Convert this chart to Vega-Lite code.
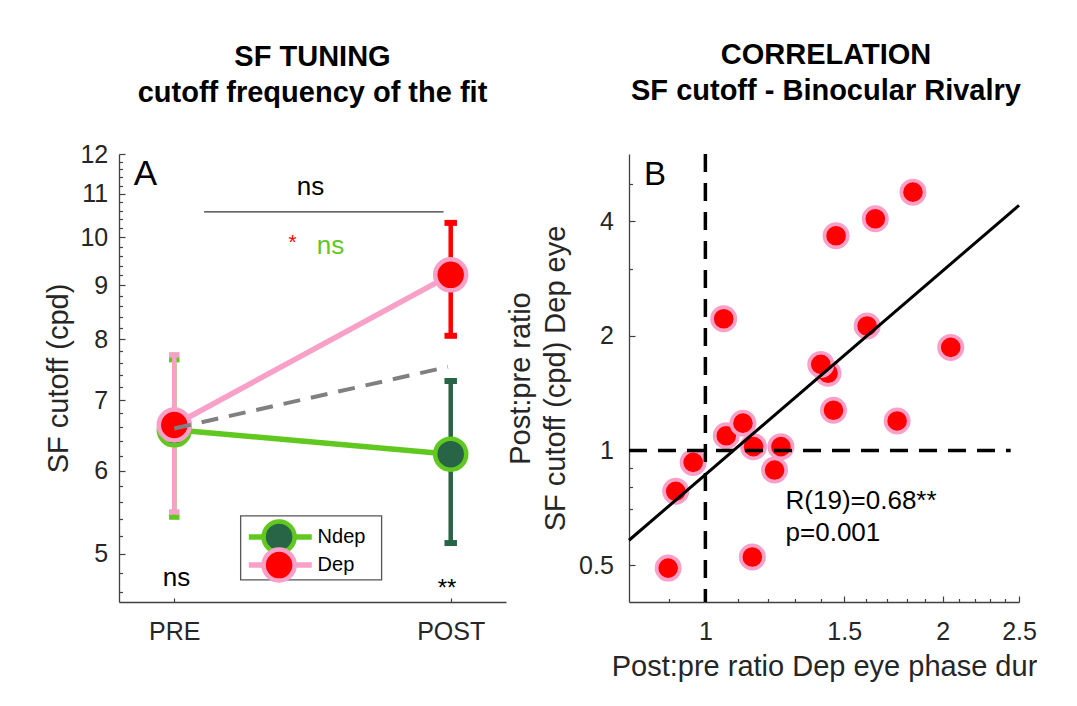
{
  "$schema": "https://vega.github.io/schema/vega-lite/v6.json",
  "background": "white",
  "padding": {"left": 44, "top": 41, "right": 0, "bottom": 0},
  "config": {
    "font": "Liberation Sans",
    "view": {"stroke": null},
    "axis": {
      "grid": false,
      "domainColor": "#404040",
      "domainWidth": 1.3,
      "tickColor": "#404040",
      "tickWidth": 1.2,
      "labelColor": "#262626",
      "labelFont": "Liberation Sans",
      "labelFontSize": 25,
      "titleFont": "Liberation Sans",
      "titleFontSize": 29,
      "titleFontWeight": "normal",
      "titleColor": "#262626"
    }
  },
  "bounds": "flush",
  "spacing": 123,
  "hconcat": [
    {
      "width": 387,
      "height": 448,
      "title": {
        "text": ["SF TUNING", "cutoff frequency of the fit"],
        "frame": "group",
        "anchor": "middle",
        "font": "Liberation Sans",
        "fontSize": 29,
        "fontWeight": "bold",
        "lineHeight": 36,
        "offset": 34,
        "color": "black"
      },
      "data": {
        "values": [
          {"group": "Ndep", "time": "PRE", "t": 1, "mean": 6.56, "lo": 5.42, "hi": 7.65},
          {"group": "Ndep", "time": "POST", "t": 2, "mean": 6.22, "lo": 5.12, "hi": 7.3},
          {"group": "Dep", "time": "PRE", "t": 1, "mean": 6.63, "lo": 5.48, "hi": 7.73},
          {"group": "Dep", "time": "POST", "t": 2, "mean": 9.21, "lo": 8.06, "hi": 10.32}
        ]
      },
      "resolve": {"axis": {"x": "independent", "y": "independent"}},
      "layer": [
        {
          "transform": [{"filter": "datum.group == 'Ndep' && datum.time == 'PRE'"}],
          "layer": [
            {"mark": {"type": "rule", "strokeWidth": 4.5, "color": "#60C81E"},
             "encoding": {"x": {"field": "t", "type": "quantitative", "axis": null}, "y": {"field": "lo", "type": "quantitative", "axis": null}, "y2": {"field": "hi"}}},
            {"mark": {"type": "tick", "orient": "horizontal", "size": 10.5, "thickness": 5.5, "color": "#60C81E", "opacity": 1},
             "encoding": {"x": {"field": "t", "type": "quantitative", "axis": null}, "y": {"field": "lo", "type": "quantitative", "axis": null}}},
            {"mark": {"type": "tick", "orient": "horizontal", "size": 10.5, "thickness": 5.5, "color": "#60C81E", "opacity": 1},
             "encoding": {"x": {"field": "t", "type": "quantitative", "axis": null}, "y": {"field": "hi", "type": "quantitative", "axis": null}}}
          ]
        },
        {
          "transform": [{"filter": "datum.group == 'Dep' && datum.time == 'PRE'"}],
          "layer": [
            {"mark": {"type": "rule", "strokeWidth": 4.5, "color": "#F9A0C8"},
             "encoding": {"x": {"field": "t", "type": "quantitative", "axis": null}, "y": {"field": "lo", "type": "quantitative", "axis": null}, "y2": {"field": "hi"}}},
            {"mark": {"type": "tick", "orient": "horizontal", "size": 10.5, "thickness": 5.5, "color": "#F9A0C8", "opacity": 1},
             "encoding": {"x": {"field": "t", "type": "quantitative", "axis": null}, "y": {"field": "lo", "type": "quantitative", "axis": null}}},
            {"mark": {"type": "tick", "orient": "horizontal", "size": 10.5, "thickness": 5.5, "color": "#F9A0C8", "opacity": 1},
             "encoding": {"x": {"field": "t", "type": "quantitative", "axis": null}, "y": {"field": "hi", "type": "quantitative", "axis": null}}}
          ]
        },
        {
          "transform": [{"filter": "datum.group == 'Ndep' && datum.time == 'POST'"}],
          "layer": [
            {"mark": {"type": "rule", "strokeWidth": 4.5, "color": "#286446"},
             "encoding": {"x": {"field": "t", "type": "quantitative", "axis": null}, "y": {"field": "lo", "type": "quantitative", "axis": null}, "y2": {"field": "hi"}}},
            {"mark": {"type": "tick", "orient": "horizontal", "size": 12.5, "thickness": 6, "color": "#286446", "opacity": 1},
             "encoding": {"x": {"field": "t", "type": "quantitative", "axis": null}, "y": {"field": "lo", "type": "quantitative", "axis": null}}},
            {"mark": {"type": "tick", "orient": "horizontal", "size": 12.5, "thickness": 6, "color": "#286446", "opacity": 1},
             "encoding": {"x": {"field": "t", "type": "quantitative", "axis": null}, "y": {"field": "hi", "type": "quantitative", "axis": null}}}
          ]
        },
        {
          "transform": [{"filter": "datum.group == 'Dep' && datum.time == 'POST'"}],
          "layer": [
            {"mark": {"type": "rule", "strokeWidth": 4.5, "color": "#FF0000"},
             "encoding": {"x": {"field": "t", "type": "quantitative", "axis": null}, "y": {"field": "lo", "type": "quantitative", "axis": null}, "y2": {"field": "hi"}}},
            {"mark": {"type": "tick", "orient": "horizontal", "size": 12.5, "thickness": 6, "color": "#FF0000", "opacity": 1},
             "encoding": {"x": {"field": "t", "type": "quantitative", "axis": null}, "y": {"field": "lo", "type": "quantitative", "axis": null}}},
            {"mark": {"type": "tick", "orient": "horizontal", "size": 12.5, "thickness": 6, "color": "#FF0000", "opacity": 1},
             "encoding": {"x": {"field": "t", "type": "quantitative", "axis": null}, "y": {"field": "hi", "type": "quantitative", "axis": null}}}
          ]
        },
        {
          "transform": [{"filter": "datum.group == 'Ndep'"}],
          "mark": {"type": "line", "strokeWidth": 5.5, "color": "#60C81E"},
          "encoding": {
            "x": {"field": "t", "type": "quantitative", "axis": null},
            "y": {"field": "mean", "type": "quantitative", "axis": null}
          }
        },
        {
          "transform": [{"filter": "datum.group == 'Dep'"}],
          "mark": {"type": "line", "strokeWidth": 5.5, "color": "#F9A0C8"},
          "encoding": {
            "x": {"field": "t", "type": "quantitative", "axis": null},
            "y": {"field": "mean", "type": "quantitative", "axis": null}
          }
        },
        {
          "mark": {"type": "point", "filled": true, "size": 960, "strokeWidth": 4.5, "opacity": 1},
          "encoding": {
            "x": {
              "field": "t", "type": "quantitative",
              "scale": {"domain": [0.8, 2.2], "nice": false, "zero": false},
              "axis": {"orient": "bottom", "values": [1, 2], "labelExpr": "datum.value == 1 ? 'PRE' : 'POST'", "tickSize": -4, "labelPadding": 21.3, "labelFlush": false, "labelOverlap": false, "title": null}
            },
            "y": {
              "field": "mean", "type": "quantitative",
              "scale": {"type": "log", "domain": [4.5, 12], "nice": false},
              "axis": {"orient": "left", "values": [5, 6, 7, 8, 9, 10, 11, 12], "format": "~g", "tickSize": -6, "labelPadding": 17.3, "labelOverlap": false, "title": "SF cutoff (cpd)", "titlePadding": 6}
            },
            "fill": {"field": "group", "type": "nominal", "scale": {"domain": ["Ndep", "Dep"], "range": ["#286446", "#FF0000"]}, "legend": null},
            "stroke": {"field": "group", "type": "nominal", "scale": {"domain": ["Ndep", "Dep"], "range": ["#60C81E", "#F9A0C8"]}, "legend": null}
          }
        },
        {
          "data": {"values": [{}]},
          "mark": {"type": "rule", "color": "#808080", "strokeWidth": 4, "strokeDash": [17, 11]},
          "encoding": {
            "x": {"datum": 1, "axis": null},
            "y": {"datum": 6.58, "axis": null},
            "x2": {"datum": 1.99},
            "y2": {"datum": 7.53}
          }
        },
        {
          "data": {"values": [{}]},
          "mark": {"type": "rect", "fill": "white", "stroke": "#555555", "strokeWidth": 1.3},
          "encoding": {
            "x": {"datum": 1.24, "axis": null},
            "x2": {"datum": 1.75},
            "y": {"datum": 5.434, "axis": null},
            "y2": {"datum": 4.724}
          }
        },
        {
          "transform": [{"filter": "datum.group == 'Ndep' && datum.time == 'PRE'"}],
          "layer": [
            {"mark": {"type": "rule", "strokeWidth": 5.5, "color": "#60C81E"},
             "encoding": {"x": {"datum": 1.2696, "axis": null}, "x2": {"datum": 1.4973}, "y": {"datum": 5.189, "axis": null}}},
            {"mark": {"type": "point", "filled": true, "size": 960, "strokeWidth": 4.5, "opacity": 1, "fill": "#286446", "stroke": "#60C81E"},
             "encoding": {"x": {"datum": 1.3792, "axis": null}, "y": {"datum": 5.189, "axis": null}}},
            {"mark": {"type": "text", "fontSize": 20, "align": "left", "baseline": "middle", "color": "black"},
             "encoding": {"text": {"field": "group"}, "x": {"datum": 1.5184, "axis": null}, "y": {"datum": 5.189, "axis": null}}}
          ]
        },
        {
          "transform": [{"filter": "datum.group == 'Dep' && datum.time == 'PRE'"}],
          "layer": [
            {"mark": {"type": "rule", "strokeWidth": 5.5, "color": "#F9A0C8"},
             "encoding": {"x": {"datum": 1.2696, "axis": null}, "x2": {"datum": 1.4973}, "y": {"datum": 4.879, "axis": null}}},
            {"mark": {"type": "point", "filled": true, "size": 960, "strokeWidth": 4.5, "opacity": 1, "fill": "#FF0000", "stroke": "#F9A0C8"},
             "encoding": {"x": {"datum": 1.3792, "axis": null}, "y": {"datum": 4.879, "axis": null}}},
            {"mark": {"type": "text", "fontSize": 20, "align": "left", "baseline": "middle", "color": "black"},
             "encoding": {"text": {"field": "group"}, "x": {"datum": 1.5184, "axis": null}, "y": {"datum": 4.879, "axis": null}}}
          ]
        },
        {
          "data": {"values": [{}]},
          "mark": {"type": "rule", "color": "#333333", "strokeWidth": 1.3},
          "encoding": {
            "x": {"datum": 1.108, "axis": null},
            "x2": {"datum": 1.974},
            "y": {"datum": 10.57, "axis": {"orient": "left", "values": [4.6, 4.8, 5.2, 5.4, 5.6, 5.8, 6.2, 6.4, 6.6, 6.8, 7.2, 7.4, 7.6, 7.8, 8.2, 8.4, 8.6, 8.8, 9.2, 9.4, 9.6, 9.8, 10.2, 10.4, 10.6, 10.8, 11.2, 11.4, 11.6, 11.8], "labels": false, "domain": false, "tickSize": -3.5, "title": null}}
          }
        },
        {
          "data": {"values": [{}]},
          "mark": {"type": "text", "text": "A", "fontSize": 35, "align": "center", "baseline": "alphabetic", "color": "black"},
          "encoding": {"x": {"datum": 0.896, "axis": null}, "y": {"datum": 11.21, "axis": null}}
        },
        {
          "data": {"values": [{}]},
          "mark": {"type": "text", "text": "ns", "fontSize": 26, "align": "center", "baseline": "alphabetic", "color": "black"},
          "encoding": {"x": {"datum": 1.493, "axis": null}, "y": {"datum": 10.96, "axis": null}}
        },
        {
          "data": {"values": [{}]},
          "mark": {"type": "text", "text": "*", "fontSize": 21, "align": "center", "baseline": "alphabetic", "color": "#FF0000"},
          "encoding": {"x": {"datum": 1.428, "axis": null}, "y": {"datum": 9.75, "axis": null}}
        },
        {
          "data": {"values": [{}]},
          "mark": {"type": "text", "text": "ns", "fontSize": 26, "align": "center", "baseline": "alphabetic", "color": "#60C81E"},
          "encoding": {"x": {"datum": 1.565, "axis": null}, "y": {"datum": 9.65, "axis": null}}
        },
        {
          "data": {"values": [{}]},
          "mark": {"type": "text", "text": "ns", "fontSize": 26, "align": "center", "baseline": "alphabetic", "color": "black"},
          "encoding": {"x": {"datum": 1.008, "axis": null}, "y": {"datum": 4.66, "axis": null}}
        },
        {
          "data": {"values": [{}]},
          "mark": {"type": "text", "text": "**", "fontSize": 24, "align": "center", "baseline": "alphabetic", "color": "black"},
          "encoding": {"x": {"datum": 1.987, "axis": null}, "y": {"datum": 4.56, "axis": null}}
        }
      ]
    },
    {
      "width": 390,
      "height": 448,
      "title": {
        "text": ["CORRELATION", "SF cutoff - Binocular Rivalry"],
        "frame": "group",
        "anchor": "middle",
        "font": "Liberation Sans",
        "fontSize": 29,
        "fontWeight": "bold",
        "lineHeight": 36,
        "offset": 46,
        "dx": 2,
        "color": "black"
      },
      "data": {
        "values": [
          {"phase": 1.834, "sf": 4.764},
          {"phase": 1.643, "sf": 4.056},
          {"phase": 1.465, "sf": 3.661},
          {"phase": 1.055, "sf": 2.216},
          {"phase": 1.604, "sf": 2.121},
          {"phase": 2.048, "sf": 1.864},
          {"phase": 1.431, "sf": 1.594},
          {"phase": 1.401, "sf": 1.682},
          {"phase": 1.454, "sf": 1.275},
          {"phase": 1.751, "sf": 1.195},
          {"phase": 1.063, "sf": 1.093},
          {"phase": 1.116, "sf": 1.179},
          {"phase": 1.151, "sf": 1.023},
          {"phase": 1.247, "sf": 1.023},
          {"phase": 1.224, "sf": 0.888},
          {"phase": 0.965, "sf": 0.93},
          {"phase": 0.917, "sf": 0.781},
          {"phase": 1.147, "sf": 0.525},
          {"phase": 0.897, "sf": 0.491}
        ]
      },
      "resolve": {"axis": {"x": "independent", "y": "independent"}},
      "layer": [
        {
          "mark": {"type": "point", "filled": true, "size": 543, "strokeWidth": 3.7, "fill": "#FF0000", "stroke": "#F9A0C8", "opacity": 1},
          "encoding": {
            "x": {
              "field": "phase", "type": "quantitative",
              "scale": {"type": "log", "domain": [0.8, 2.5], "nice": false},
              "axis": {"orient": "bottom", "values": [1, 1.5, 2, 2.5], "format": "~g", "tickSize": -6, "labelPadding": 23.3, "labelFlush": false, "labelOverlap": false, "title": "Post:pre ratio Dep eye phase dur", "titlePadding": 8}
            },
            "y": {
              "field": "sf", "type": "quantitative",
              "scale": {"type": "log", "domain": [0.4, 6], "nice": false},
              "axis": {"orient": "left", "values": [0.5, 1, 2, 4], "format": "~g", "tickSize": -6, "labelPadding": 21.7, "labelOverlap": false, "title": ["Post:pre ratio", "SF cutoff (cpd) Dep eye"], "titleLineHeight": 35, "titlePadding": 8}
            }
          }
        },
        {
          "data": {"values": [{}]},
          "mark": {"type": "rule", "color": "black", "strokeWidth": 3.5, "strokeDash": [18, 11]},
          "encoding": {
            "x": {"datum": 1, "axis": {"orient": "bottom", "values": [0.9, 1.1, 1.2, 1.3, 1.4, 1.6, 1.7, 1.8, 1.9, 2.1, 2.2, 2.3, 2.4], "labels": false, "domain": false, "tickSize": -3.5, "title": null}}
          }
        },
        {
          "data": {"values": [{}]},
          "mark": {"type": "rule", "color": "black", "strokeWidth": 3.5, "strokeDash": [18, 11]},
          "encoding": {
            "x": {"datum": 0.8, "axis": null},
            "x2": {"datum": 2.44},
            "y": {"datum": 1, "axis": {"orient": "left", "values": [0.7, 0.8, 0.9, 3, 5], "labels": false, "domain": false, "tickSize": -3.5, "title": null}}
          }
        },
        {
          "data": {"values": [{}]},
          "mark": {"type": "rule", "color": "black", "strokeWidth": 3},
          "encoding": {
            "x": {"datum": 0.8, "axis": null},
            "y": {"datum": 0.581, "axis": null},
            "x2": {"datum": 2.5},
            "y2": {"datum": 4.4}
          }
        },
        {
          "data": {"values": [{}]},
          "mark": {"type": "text", "text": "B", "fontSize": 33, "align": "center", "baseline": "alphabetic", "color": "black"},
          "encoding": {"x": {"datum": 0.863, "axis": null}, "y": {"datum": 4.98, "axis": null}}
        },
        {
          "data": {"values": [{}]},
          "mark": {"type": "text", "text": "R(19)=0.68**", "fontSize": 26, "align": "left", "baseline": "alphabetic", "color": "black"},
          "encoding": {"x": {"datum": 1.264, "axis": null}, "y": {"datum": 0.702, "axis": null}}
        },
        {
          "data": {"values": [{}]},
          "mark": {"type": "text", "text": "p=0.001", "fontSize": 26, "align": "left", "baseline": "alphabetic", "color": "black"},
          "encoding": {"x": {"datum": 1.264, "axis": null}, "y": {"datum": 0.577, "axis": null}}
        }
      ]
    }
  ]
}
